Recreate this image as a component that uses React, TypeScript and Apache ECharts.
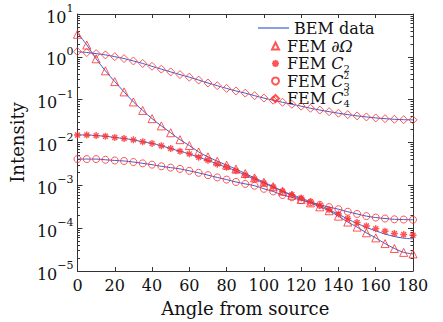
import React, { useEffect, useRef } from "react";
import * as echarts from "echarts";

const angles = [0, 5, 10, 15, 20, 25, 30, 35, 40, 45, 50, 55, 60, 65, 70, 75, 80, 85, 90, 95, 100, 105, 110, 115, 120, 125, 130, 135, 140, 145, 150, 155, 160, 165, 170, 175, 180];

const femOmega = [3.36, 1.88, 0.9, 0.471, 0.264, 0.152, 0.0885, 0.056, 0.0361, 0.0244, 0.0169, 0.01165, 0.0085, 0.00603, 0.00463, 0.00366, 0.00296, 0.0024, 0.00189, 0.00149, 0.00118, 0.00093, 0.00073, 0.000585, 0.000468, 0.000389, 0.000315, 0.000255, 0.000191, 0.000139, 0.000106, 0.000078, 0.0000593, 0.0000437, 0.0000336, 0.0000272, 0.0000251];
const femC2 = [0.015, 0.015, 0.0145, 0.014, 0.0131, 0.0124, 0.01153, 0.01038, 0.00953, 0.0084, 0.00724, 0.00625, 0.00543, 0.00451, 0.00385, 0.00312, 0.00264, 0.00218, 0.00173, 0.0014, 0.00113, 0.00092, 0.00073, 0.000603, 0.000507, 0.00041, 0.000341, 0.000269, 0.000215, 0.000168, 0.000136, 0.000112, 0.0000975, 0.0000846, 0.0000749, 0.000071, 0.0000684];
const femC3 = [0.0041, 0.0041, 0.0041, 0.00395, 0.00381, 0.0037, 0.0035, 0.00326, 0.00304, 0.00278, 0.00259, 0.00242, 0.00218, 0.00196, 0.00173, 0.00153, 0.00136, 0.0012, 0.00108, 0.00098, 0.00083, 0.00072, 0.000594, 0.000526, 0.000449, 0.0004, 0.00035, 0.00031, 0.000277, 0.000242, 0.000215, 0.000191, 0.000177, 0.000168, 0.000161, 0.000159, 0.000157];
const femC4 = [1.32, 1.26, 1.19, 1.11, 1.01, 0.91, 0.8, 0.7, 0.6, 0.515, 0.445, 0.385, 0.335, 0.287, 0.245, 0.212, 0.183, 0.16, 0.142, 0.124, 0.109, 0.097, 0.087, 0.078, 0.0705, 0.063, 0.0572, 0.0525, 0.0482, 0.0448, 0.0418, 0.0395, 0.0375, 0.036, 0.0348, 0.0341, 0.0338];

const bemOmega = [3.6, 1.9, 0.9, 0.471, 0.264, 0.152, 0.0885, 0.056, 0.0361, 0.0244, 0.0169, 0.01165, 0.0085, 0.00603, 0.00463, 0.00366, 0.00296, 0.0024, 0.00189, 0.00149, 0.00118, 0.00093, 0.00073, 0.000585, 0.000468, 0.000389, 0.000315, 0.000255, 0.000191, 0.000139, 0.000106, 0.000078, 0.0000593, 0.0000437, 0.0000336, 0.0000272, 0.0000251];
const bemC2 = [0.015, 0.015, 0.0145, 0.014, 0.0131, 0.0124, 0.01153, 0.01038, 0.00953, 0.0084, 0.00724, 0.00625, 0.00543, 0.00451, 0.00385, 0.00312, 0.00264, 0.00218, 0.00173, 0.0014, 0.00113, 0.00092, 0.00073, 0.000603, 0.000507, 0.00041, 0.000341, 0.000269, 0.000212, 0.000163, 0.000129, 0.000104, 0.0000867, 0.0000729, 0.0000639, 0.0000584, 0.0000563];
const bemC3 = femC3;
const bemC4 = femC4;

const xTicks = [0, 20, 40, 60, 80, 100, 120, 140, 160, 180];

const FONT = "DejaVu Serif";
const RED = "#ff2a2a";
const BLUE = "#3a5fd0";

const asterisk = "path://M0,-10L0,10M-10,0L10,0M-7,-7L7,7M-7,7L7,-7";

const legendRich: Record<string, string> = {
  "BEM data": "BEM data",
  "FEM ∂Ω": "FEM {i|∂Ω}",
  "FEM C_2": "FEM {i|C}{sub|2}",
  "FEM C^2_3": "FEM {i|C}{sup|2}{sub|3}",
  "FEM C^3_4": "FEM {i|C}{sup|3}{sub|4}",
};

function pairs(vals: number[]) {
  return angles.map((a, i) => [a, vals[i]]);
}

export default function App() {
  const ref = useRef<HTMLDivElement>(null);
  useEffect(() => {
    if (!ref.current) return;
    const chart = echarts.init(ref.current, undefined, { renderer: "svg" });
    const minorVals: number[] = [];
    for (let n = -5; n < 1; n++) {
      for (let k = 2; k <= 9; k++) minorVals.push(n + Math.log10(k));
    }
    const bemLine = (vals: number[]) => ({
      type: "line",
      name: "BEM data",
      data: pairs(vals),
      smooth: 0.3,
      symbol: "none",
      lineStyle: { color: BLUE, width: 1 },
      itemStyle: { color: BLUE },
      z: 3,
    });
    const fem = (name: string, vals: number[], symbol: string, size: number, filledStroke?: boolean) => ({
      type: "scatter",
      name,
      data: pairs(vals),
      symbol,
      symbolSize: size,
      itemStyle: {
        color: filledStroke ? RED : "rgba(255,255,255,0)",
        borderColor: RED,
        borderWidth: filledStroke ? 1.4 : 1,
      },
      z: 4,
    });
    const textStyle = {
      fontFamily: FONT,
      fontSize: 16,
      color: "#111",
      lineHeight: 20,
      rich: {
        i: { fontFamily: FONT, fontStyle: "italic", fontSize: 16, lineHeight: 20, color: "#111" },
        sub: { fontFamily: FONT, fontSize: 10, lineHeight: 10, verticalAlign: "bottom", color: "#111" },
        sup: { fontFamily: FONT, fontSize: 9, lineHeight: 9, verticalAlign: "top", width: 0, color: "#111" },
      },
    };
    chart.setOption({
      animation: false,
      backgroundColor: "#fff",
      grid: { left: 73, right: 30, top: 14, bottom: 45, containLabel: false },
      legend: [
        {
          orient: "vertical",
          left: 253,
          top: 13,
          itemWidth: 31,
          itemHeight: 1.2,
          icon: "rect",
          itemStyle: { color: BLUE, borderWidth: 0 },
          data: ["BEM data"],
          formatter: (name: string) => legendRich[name] || name,
          textStyle,
        },
        {
          orient: "vertical",
          left: 266,
          top: 31,
          itemWidth: 7,
          itemHeight: 7,
          itemGap: -2.5,
          data: [
            { name: "FEM ∂Ω", icon: "triangle" },
            { name: "FEM C_2", icon: asterisk },
            { name: "FEM C^2_3", icon: "circle" },
            { name: "FEM C^3_4", icon: "diamond" },
          ],
          formatter: (name: string) => legendRich[name] || name,
          textStyle: { ...textStyle, padding: [0, 0, 0, 3] },
        },
      ],
      xAxis: [
        {
          type: "value",
          min: 0,
          max: 180,
          interval: 20,
          position: "bottom",
          name: "Angle from source",
          nameLocation: "middle",
          nameGap: 28,
          nameTextStyle: { fontFamily: FONT, fontSize: 18, color: "#111" },
          axisLine: { show: true, onZero: false, lineStyle: { color: "#333", width: 1 } },
          axisTick: { show: true, inside: true, length: 4, lineStyle: { color: "#333" } },
          axisLabel: { fontFamily: FONT, fontSize: 16, color: "#111", margin: 6, customValues: xTicks },
          splitLine: { show: false },
        },
        {
          type: "value",
          min: 0,
          max: 180,
          interval: 20,
          position: "top",
          axisLine: { show: true, onZero: false, lineStyle: { color: "#333", width: 1 } },
          axisTick: { show: true, inside: true, length: 4, lineStyle: { color: "#333" } },
          axisLabel: { show: false },
          splitLine: { show: false },
        },
      ],
      yAxis: [
        {
          type: "log",
          logBase: 10,
          min: 1e-5,
          max: 10,
          interval: 1,
          position: "left",
          name: "Intensity",
          nameLocation: "middle",
          nameGap: 46,
          nameTextStyle: { fontFamily: FONT, fontSize: 18, color: "#111" },
          axisLine: { show: true, onZero: false, lineStyle: { color: "#333", width: 1 } },
          axisTick: { show: true, inside: true, length: 5, lineStyle: { color: "#333" } },
          axisLabel: {
            margin: 4,
            formatter: (v: number) => {
              const e = Math.round(Math.log10(v));
              return "{b|10}{e|" + (e < 0 ? "−" + -e : String(e)) + "}";
            },
            rich: {
              b: { fontFamily: FONT, fontSize: 16, lineHeight: 22, verticalAlign: "bottom", color: "#111" },
              e: { fontFamily: FONT, fontSize: 11, lineHeight: 11, verticalAlign: "top", color: "#111" },
            },
          },
          splitLine: { show: false },
        },
        {
          type: "log",
          logBase: 10,
          min: 1e-5,
          max: 10,
          interval: 1,
          position: "right",
          axisLine: { show: true, onZero: false, lineStyle: { color: "#333", width: 1 } },
          axisTick: { show: true, inside: true, length: 5, lineStyle: { color: "#333" } },
          axisLabel: { show: false },
          splitLine: { show: false },
        },
        {
          type: "value",
          min: -5,
          max: 1,
          position: "left",
          axisLine: { show: false, onZero: false },
          axisTick: { show: true, inside: true, length: 2.5, customValues: minorVals, lineStyle: { color: "#333" } },
          axisLabel: { show: false },
          splitLine: { show: false },
        },
        {
          type: "value",
          min: -5,
          max: 1,
          position: "right",
          axisLine: { show: false, onZero: false },
          axisTick: { show: true, inside: true, length: 2.5, customValues: minorVals, lineStyle: { color: "#333" } },
          axisLabel: { show: false },
          splitLine: { show: false },
        },
      ],
      series: [
        bemLine(bemOmega),
        bemLine(bemC2),
        bemLine(bemC3),
        bemLine(bemC4),
        fem("FEM ∂Ω", femOmega, "triangle", 8),
        fem("FEM C_2", femC2, asterisk, 7, true),
        fem("FEM C^2_3", femC3, "circle", 7),
        fem("FEM C^3_4", femC4, "diamond", 8),
      ],
    });
    return () => chart.dispose();
  }, []);
  return (
    <div
      ref={ref}
      style={{ position: "fixed", left: 0, top: 0, width: 443, height: 322, background: "#fff" }}
    />
  );
}
